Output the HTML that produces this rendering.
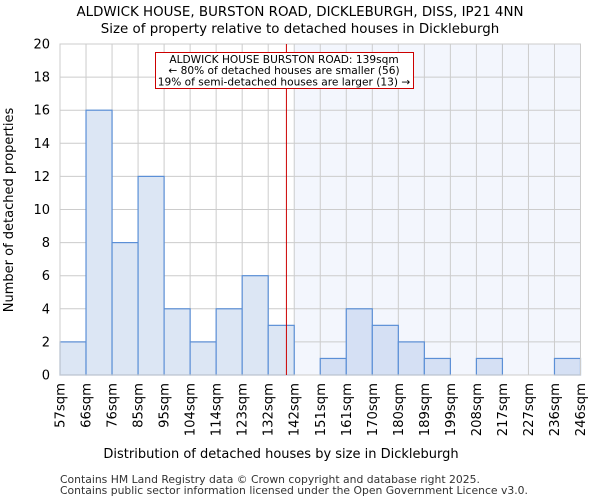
<!DOCTYPE html>
<html><head><meta charset="utf-8"><style>
body{margin:0;background:#fff;font-family:"DejaVu Sans","Liberation Sans",sans-serif}
svg text{font-family:"DejaVu Sans","Liberation Sans",sans-serif}
</style></head><body>
<svg id="chart" width="600" height="500" viewBox="0 0 600 500">
<text x="300" y="16" text-anchor="middle" font-size="13.4">ALDWICK HOUSE, BURSTON ROAD, DICKLEBURGH, DISS, IP21 4NN</text>
<text x="300" y="33" text-anchor="middle" font-size="13.4">Size of property relative to detached houses in Dickleburgh</text>
<g id="plot"></g>
<text x="281" y="458" text-anchor="middle" font-size="13">Distribution of detached houses by size in Dickleburgh</text>
<text transform="translate(13,210) rotate(-90)" text-anchor="middle" font-size="13">Number of detached properties</text>
<text x="60" y="483" font-size="10.8" fill="#333">Contains HM Land Registry data © Crown copyright and database right 2025.</text>
<text x="60" y="494" font-size="10.8" fill="#333">Contains public sector information licensed under the Open Government Licence v3.0.</text>
</svg>
<script>
const binLabels=["57sqm","66sqm","76sqm","85sqm","95sqm","104sqm","114sqm","123sqm","132sqm","142sqm","151sqm","161sqm","170sqm","180sqm","189sqm","199sqm","208sqm","217sqm","227sqm","236sqm","246sqm"];
const counts=[2,16,8,12,4,2,4,6,3,0,1,4,3,2,1,0,1,0,0,1];
const yTicks=[0,2,4,6,8,10,12,14,16,18,20];
const propertyBinPos=8.7;
const highlightStartBin=9;
const NS="http://www.w3.org/2000/svg";
const L=60,R=580.5,T=44,B=375,yMax=20;
const bw=(R-L)/counts.length;
const xs=i=>L+i*bw;
const ys=v=>B-(v/yMax)*(B-T);
const g=document.getElementById('plot');
function mk(t,a){const e=document.createElementNS(NS,t);for(const k in a)e.setAttribute(k,a[k]);g.appendChild(e);return e;}
let e=mk('rect',{x:xs(highlightStartBin),y:T,width:R-xs(highlightStartBin),height:B-T,fill:'#f3f6fd'});


for(let i=0;i<binLabels.length;i++){
 e=mk('line',{x1:xs(i),x2:xs(i),y1:T,y2:B,stroke:'#cccccc','stroke-width':1});
 
 
}
yTicks.forEach(v=>{
 e=mk('line',{x1:L,x2:R,y1:ys(v),y2:ys(v),stroke:'#cccccc','stroke-width':1});
 
 
 e=mk('text',{x:L-10,y:ys(v)+4.5,'text-anchor':'end','font-size':13});
 e.textContent=v;
 
 
});
counts.forEach((c,i)=>{
 if(c<=0)return;
 e=mk('rect',{x:xs(i),y:ys(c),width:bw,height:B-ys(c),fill:i>=highlightStartBin?'#d5e0f4':'#dce6f4',stroke:'#5b8fd6','stroke-width':1.2});
 
 
});
e=mk('rect',{x:L,y:T,width:R-L,height:B-T,fill:'none',stroke:'#cccccc','stroke-width':1});


binLabels.forEach((s,i)=>{
 e=mk('text',{transform:`translate(${xs(i)+4.5},383) rotate(-90)`,'text-anchor':'end','font-size':13.2});
 e.textContent=s;
 
 
});
const px=xs(propertyBinPos);
e=mk('line',{x1:px,x2:px,y1:T,y2:B,stroke:'#cc0000','stroke-width':1});


e=mk('rect',{x:155.5,y:52.5,width:258,height:36,fill:'#fff',stroke:'#cc0000','stroke-width':1});


["ALDWICK HOUSE BURSTON ROAD: 139sqm","← 80% of detached houses are smaller (56)","19% of semi-detached houses are larger (13) →"].forEach((s,k)=>{
 e=mk('text',{x:284,y:63+k*11.2,'text-anchor':'middle','font-size':10.6});
 e.textContent=s;
 
 
});
</script>
</body></html>
